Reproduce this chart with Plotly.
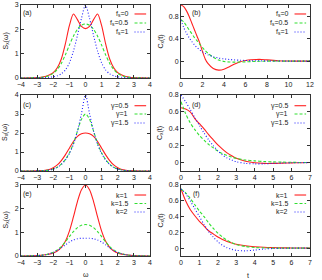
import plotly.graph_objects as go

# ---------------- data ----------------
omega = [-4, -3.5, -3, -2.75, -2.5, -2.25, -2, -1.75, -1.5, -1.25, -1, -0.75, -0.5, -0.25,
         0, 0.25, 0.5, 0.75, 1, 1.25, 1.5, 1.75, 2, 2.25, 2.5, 2.75, 3, 3.5, 4]

# (a) S_x(omega) for f_s
Sa_fs0 = [0, 0.004, 0.015, 0.03, 0.06, 0.12, 0.22, 0.42, 0.78, 1.4, 2.15, 2.63, 2.4, 2.12,
          2.03, 2.12, 2.4, 2.63, 2.15, 1.4, 0.78, 0.42, 0.22, 0.12, 0.06, 0.03, 0.015, 0.004, 0]
Sa_fs05 = [0, 0.003, 0.012, 0.025, 0.05, 0.1, 0.19, 0.35, 0.6, 0.95, 1.35, 1.72, 2.0, 2.17,
           2.22, 2.17, 2.0, 1.72, 1.35, 0.95, 0.6, 0.35, 0.19, 0.1, 0.05, 0.025, 0.012, 0.003, 0]
Sa_fs1 = [0, 0.001, 0.004, 0.008, 0.015, 0.03, 0.05, 0.09, 0.17, 0.33, 0.62, 1.1, 1.75, 2.45,
          3.0, 2.45, 1.75, 1.1, 0.62, 0.33, 0.17, 0.09, 0.05, 0.03, 0.015, 0.008, 0.004, 0.001, 0]

# (c) S_x(omega) for gamma
Sc_g05 = [0, 0.002, 0.01, 0.02, 0.04, 0.08, 0.17, 0.32, 0.55, 0.85, 1.2, 1.55, 1.82, 1.96,
          2.0, 1.96, 1.82, 1.55, 1.2, 0.85, 0.55, 0.32, 0.17, 0.08, 0.04, 0.02, 0.01, 0.002, 0]
Sc_g1 = [0, 0.001, 0.006, 0.012, 0.025, 0.05, 0.1, 0.2, 0.36, 0.6, 0.95, 1.45, 2.1, 2.72,
         3.0, 2.72, 2.1, 1.45, 0.95, 0.6, 0.36, 0.2, 0.1, 0.05, 0.025, 0.012, 0.006, 0.001, 0]
Sc_g15 = [0, 0.001, 0.006, 0.012, 0.025, 0.05, 0.1, 0.19, 0.34, 0.58, 0.92, 1.4, 2.1, 3.02,
          4.0, 3.02, 2.1, 1.4, 0.92, 0.58, 0.34, 0.19, 0.1, 0.05, 0.025, 0.012, 0.006, 0.001, 0]

# (e) S_x(omega) for k
Se_k1 = [0, 0.006, 0.02, 0.03, 0.05, 0.08, 0.13, 0.21, 0.36, 0.62, 1.05, 1.65, 2.3, 2.8,
         3.0, 2.8, 2.3, 1.65, 1.05, 0.62, 0.36, 0.21, 0.13, 0.08, 0.05, 0.03, 0.02, 0.006, 0]
Se_k15 = [0, 0.004, 0.015, 0.03, 0.05, 0.09, 0.16, 0.26, 0.4, 0.6, 0.82, 1.03, 1.2, 1.3,
          1.33, 1.3, 1.2, 1.03, 0.82, 0.6, 0.4, 0.26, 0.16, 0.09, 0.05, 0.03, 0.015, 0.004, 0]
Se_k2 = [0, 0.004, 0.015, 0.03, 0.05, 0.09, 0.15, 0.23, 0.34, 0.47, 0.59, 0.68, 0.73, 0.75,
         0.75, 0.75, 0.73, 0.68, 0.59, 0.47, 0.34, 0.23, 0.15, 0.09, 0.05, 0.03, 0.015, 0.004, 0]

# (b) C_x(t) for f_s
t_b = [0, 0.25, 0.5, 0.75, 1, 1.25, 1.5, 1.75, 2, 2.25, 2.5, 3, 3.5, 4, 4.5, 5, 5.5, 6,
       6.5, 7, 7.5, 8, 9, 10, 11, 12]
Cb_fs0 = [1.0, 0.97, 0.9, 0.8, 0.68, 0.56, 0.44, 0.32, 0.17, 0.04, -0.04, -0.13, -0.16, -0.145,
          -0.1, -0.05, -0.01, 0.012, 0.025, 0.03, 0.03, 0.022, 0.008, 0.002, 0, 0]
Cb_fs05 = [0.74, 0.7, 0.63, 0.56, 0.49, 0.42, 0.36, 0.3, 0.24, 0.19, 0.14, 0.07, 0.02, -0.005,
           -0.015, -0.018, -0.016, -0.012, -0.008, -0.004, -0.002, 0, 0, 0, 0, 0]
Cb_fs1 = [0.73, 0.6, 0.5, 0.42, 0.35, 0.29, 0.24, 0.2, 0.165, 0.14, 0.115, 0.08, 0.055, 0.04,
          0.03, 0.022, 0.016, 0.012, 0.009, 0.007, 0.005, 0.004, 0.002, 0.001, 0, 0]

# (d) C_x(t) for gamma, (f) C_x(t) for k
t_df = [0, 0.25, 0.5, 0.75, 1, 1.25, 1.5, 1.75, 2, 2.25, 2.5, 2.75, 3, 3.5, 4, 4.5, 5,
        5.5, 6, 6.5, 7]
Cd_g05 = [0.65, 0.635, 0.6, 0.52, 0.46, 0.4, 0.33, 0.27, 0.21, 0.16, 0.115, 0.08, 0.05, 0.015,
          -0.003, -0.01, -0.01, -0.007, -0.004, -0.002, 0]
Cd_g1 = [0.72, 0.58, 0.47, 0.39, 0.32, 0.265, 0.215, 0.175, 0.135, 0.105, 0.085, 0.065, 0.05,
         0.03, 0.02, 0.012, 0.008, 0.005, 0.003, 0.001, 0]
Cd_g15 = [0.8, 0.72, 0.63, 0.53, 0.44, 0.35, 0.27, 0.2, 0.14, 0.09, 0.055, 0.03, 0.01, -0.01,
          -0.015, -0.015, -0.01, -0.006, -0.003, -0.001, 0]
Cf_k1 = [0.75, 0.6, 0.49, 0.41, 0.34, 0.28, 0.22, 0.18, 0.14, 0.11, 0.085, 0.065, 0.05, 0.03,
         0.018, 0.01, 0.006, 0.003, 0.002, 0.001, 0]
Cf_k15 = [0.75, 0.7, 0.63, 0.55, 0.47, 0.4, 0.32, 0.25, 0.19, 0.14, 0.1, 0.07, 0.045, 0.02,
          0.008, 0.003, 0, 0, 0, 0, 0]
Cf_k2 = [0.75, 0.69, 0.6, 0.5, 0.4, 0.3, 0.21, 0.14, 0.08, 0.035, 0.005, -0.015, -0.028,
         -0.035, -0.025, -0.012, -0.005, -0.002, 0, 0, 0]

labels_fs = ["f<sub>s</sub>=0", "f<sub>s</sub>=0.5", "f<sub>s</sub>=1"]
labels_g = ["γ=0.5", "γ=1", "γ=1.5"]
labels_k = ["k=1", "k=1.5", "k=2"]
panel_names = ["(a)", "(b)", "(c)", "(d)", "(e)", "(f)"]

# ---------------- styling ----------------
W, H = 322, 280
FONT = "Liberation Sans, Arial, sans-serif"
COLORS = ["#ff2020", "#30e030", "#2020ff"]
DASHES = ["solid", "3px,2px", "1px,2px"]
WIDTHS = [1.1, 1.1, 1.1]
AX = "#333333"

xdom = {0: [21 / W, 150 / W], 1: [181 / W, 310 / W]}
ydom = {0: [1 - 78 / H, 1 - 5 / H], 1: [1 - 171 / H, 1 - 95 / H], 2: [1 - 256 / H, 1 - 185 / H]}

panels = [
    dict(x=omega, ys=[Sa_fs0, Sa_fs05, Sa_fs1], labels=labels_fs, xr=[-4, 4], yr=[0, 3],
         xt=1, yt=1),
    dict(x=t_b, ys=[Cb_fs0, Cb_fs05, Cb_fs1], labels=labels_fs, xr=[0, 12], yr=[-0.3, 1.0],
         xt=2, yt=0.4),
    dict(x=omega, ys=[Sc_g05, Sc_g1, Sc_g15], labels=labels_g, xr=[-4, 4], yr=[0, 4],
         xt=1, yt=1),
    dict(x=t_df, ys=[Cd_g05, Cd_g1, Cd_g15], labels=labels_g, xr=[0, 7], yr=[-0.1, 0.8],
         xt=1, yt=0.2),
    dict(x=omega, ys=[Se_k1, Se_k15, Se_k2], labels=labels_k, xr=[-4, 4], yr=[0, 3],
         xt=1, yt=1),
    dict(x=t_df, ys=[Cf_k1, Cf_k15, Cf_k2], labels=labels_k, xr=[0, 7], yr=[-0.1, 0.8],
         xt=1, yt=0.2),
]

fig = go.Figure()
layout = dict(width=W, height=H, margin=dict(l=0, r=0, t=0, b=0),
              paper_bgcolor="white", plot_bgcolor="white", showlegend=False,
              font=dict(family=FONT, size=7, color="#222"))
annotations = []
shapes = []

leg_rows = {0: [0.877, 0.753, 0.630], 1: [0.859, 0.75, 0.632], 2: [0.859, 0.739, 0.62]}
lab_y = {0: 0.89, 1: 0.868, 2: 0.88}

for i, p in enumerate(panels):
    row, col = i // 2, i % 2
    n = "" if i == 0 else str(i + 1)
    xa, ya = "x" + n, "y" + n
    for j in range(3):
        fig.add_trace(go.Scatter(x=p["x"], y=p["ys"][j], mode="lines", xaxis=xa, yaxis=ya,
                                 line=dict(color=COLORS[j], dash=DASHES[j], width=WIDTHS[j],
                                           shape="spline", smoothing=0.8),
                                 hoverinfo="skip"))
    common = dict(showline=True, mirror="ticks", linecolor=AX, linewidth=1, ticks="inside",
                  ticklen=3, tickcolor=AX, tickwidth=1, showgrid=False, zeroline=False,
                  tickfont=dict(family=FONT, size=7, color="#222"), automargin=False)
    layout["xaxis" + n] = dict(domain=xdom[col], range=p["xr"], dtick=p["xt"], tick0=0,
                               anchor=ya, **common)
    layout["yaxis" + n] = dict(domain=ydom[row], range=p["yr"], dtick=p["yt"], tick0=0,
                               anchor=xa, **common)
    annotations.append(dict(text=panel_names[i], xref=xa + " domain", yref=ya + " domain",
                            x=0.05 if col == 0 else 0.124, y=lab_y[row], showarrow=False,
                            xanchor="center", yanchor="middle",
                            font=dict(family=FONT, size=7, color="#222")))
    for j in range(3):
        yy = leg_rows[row][j]
        annotations.append(dict(text=p["labels"][j], xref=xa + " domain", yref=ya + " domain",
                                x=0.845, y=yy, showarrow=False, xanchor="right",
                                yanchor="middle", font=dict(family=FONT, size=7, color="#222")))
        shapes.append(dict(type="line", xref=xa + " domain", yref=ya + " domain",
                           x0=0.88, x1=0.97, y0=yy, y1=yy,
                           line=dict(color=COLORS[j], dash=DASHES[j], width=WIDTHS[j])))

for row in range(3):
    yc = (ydom[row][0] + ydom[row][1]) / 2
    annotations.append(dict(text="S<sub>x</sub>(ω)", xref="paper", yref="paper", x=5 / W, y=yc,
                            textangle=-90, showarrow=False, xanchor="center", yanchor="middle",
                            font=dict(family=FONT, size=7, color="#222")))
    annotations.append(dict(text="C<sub>x</sub>(t)", xref="paper", yref="paper", x=160 / W, y=yc,
                            textangle=-90, showarrow=False, xanchor="center", yanchor="middle",
                            font=dict(family=FONT, size=7, color="#222")))
annotations.append(dict(text="ω", xref="paper", yref="paper", x=86 / W, y=1 - 274 / H,
                        showarrow=False, xanchor="center", yanchor="middle",
                        font=dict(family=FONT, size=7, color="#222")))
annotations.append(dict(text="t", xref="paper", yref="paper", x=248 / W, y=1 - 275 / H,
                        showarrow=False, xanchor="center", yanchor="middle",
                        font=dict(family=FONT, size=7, color="#222")))

layout["annotations"] = annotations
layout["shapes"] = shapes
fig.update_layout(**layout)
fig.write_html("out.html", config={"displayModeBar": False, "staticPlot": True},
               post_script="document.body.style.margin='0px';document.body.style.padding='0px';")
